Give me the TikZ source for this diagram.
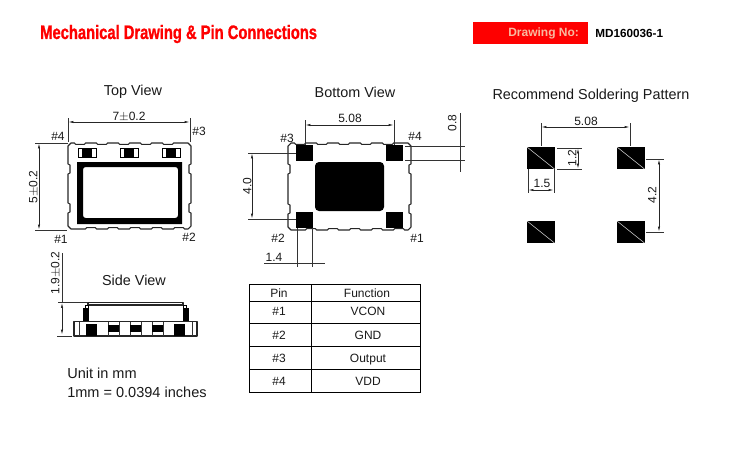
\documentclass[tikz,border=0pt]{standalone}
\usepackage{fontspec}
\setmainfont{Liberation Sans}
\newfontfamily\headfont[FakeStretch=0.757,FakeBold=1]{Liberation Sans Bold}
\usetikzlibrary{arrows.meta}
\definecolor{headred}{RGB}{254,0,0}
\definecolor{headpale}{RGB}{248,186,160}
\tikzset{
  title/.style={font=\fontsize{10.8}{12}\selectfont, inner sep=0pt, text=black!90, text height=7.8pt, text depth=0pt},
  lbl/.style={font=\fontsize{9}{11}\selectfont, inner sep=0pt, text=black!90, text height=6.5pt, text depth=0pt},
  extline/.style={line width=0.5pt, black!80},
  dimline/.style={line width=0.5pt, black!85, {Latex[length=4pt,width=1.6pt]}-{Latex[length=4pt,width=1.6pt]}},
  outline/.style={line width=0.8pt, black!85, line join=round},
}
% package outline with the small recesses along its edges
\newcommand{\pkgbody}[4]{
  \draw[outline] (#1+3,#2) -- (#1+6.5,#2)
    \foreach \i in {0,...,4} { -- ++(1,1.3) -- ++(9,0) -- ++(1,-1.3) -- ++(11,0) }
    -- (#3-3,#2) -- (#3,#2+3) -- (#3,#2+21)
    -- ++(-2,1) -- ++(0,8) -- ++(2,1) -- (#3,#4-26) -- ++(-2,1) -- ++(0,8) -- ++(2,1) -- (#3,#4-3)
    -- (#3-3,#4) -- (#3-6.5,#4)
    \foreach \i in {0,...,4} { -- ++(-1,-1.3) -- ++(-9,0) -- ++(-1,1.3) -- ++(-11,0) }
    -- (#1+3,#4) -- (#1,#4-3) -- (#1,#4-16)
    -- ++(2,-1) -- ++(0,-8) -- ++(-2,-1) -- (#1,#2+31) -- ++(2,-1) -- ++(0,-8) -- ++(-2,-1) -- (#1,#2+3) -- cycle;
}
\begin{document}
\begin{tikzpicture}[x=0.75pt,y=-0.75pt]
        \useasboundingbox (0,0) rectangle (743,475);
        % Header
        \node[inner sep=0pt, anchor=west, text=headred, font=\headfont\fontsize{14.6}{16}\selectfont] (headTitle) at (40,34) {Mechanical Drawing \& Pin Connections};
        \fill[headred] (473,22) rectangle (588,44);
        \node[inner sep=0pt, anchor=west, text=headpale, font=\bfseries\fontsize{9}{11}\selectfont] (headNo) at (508,33.5) {Drawing No:};
        \node[inner sep=0pt, anchor=west, font=\bfseries\fontsize{8.8}{11}\selectfont] (headCode) at (595,33.5) {MD160036-1};

        % Top view
        \node[title] (topTitle) at (133,90) {Top View};
        \pkgbody{68}{143}{191}{229}
        \foreach \x in {78,120,162} {
            \draw[line width=0.6pt] (\x,148) rectangle (\x+18,157);
            \fill (\x+4,148) rectangle (\x+14,157);
        }
        \fill[even odd rule] (77,162) rectangle (182,224) [rounded corners=2pt] (83,167) rectangle (178,218);
        \draw[extline] (68,118) -- (68,142);
        \draw[extline] (190,118) -- (190,142);
        \draw[dimline] (68,122) -- (190,122);
        \node[lbl] (topWidth) at (129,116) {7$\pm$0.2};
        \draw[extline] (35,143) -- (68,143);
        \draw[extline] (35,230) -- (67,230);
        \draw[dimline] (39,143) -- (39,230);
        \node[lbl, rotate=90] (topHeight) at (33,187) {5$\pm$0.2};
        \node[lbl] (top4) at (58,136) {\#4};
        \node[lbl] (top3) at (199,131) {\#3};
        \node[lbl] (top1) at (61,239) {\#1};
        \node[lbl] (top2) at (189,237) {\#2};

        % Side view
        \node[title] (sideTitle) at (134,280) {Side View};
        \draw[outline] (88,305) -- (88,302.5) -- (183,302.5) -- (183,305) -- cycle;
        \draw[line width=0.5pt] (85,305) rectangle (88,308);
        \draw[line width=0.5pt] (183,305) rectangle (186,308);
        \fill (83,308) rectangle (89,322);
        \fill (183,308) rectangle (188.5,322);
        \draw[outline] (74,321.5) rectangle (197,336);
        \draw[extline] (79,321.5) -- (79,336);
        \draw[extline] (192,321.5) -- (192,336);
        \foreach \x in {86,174} {
            \fill (\x,324) rectangle (\x+11,336);
        }
        \foreach \x in {108,130,152} {
            \draw[extline] (\x,321.5) -- (\x,336);
            \draw[extline] (\x+11,321.5) -- (\x+11,336);
            \fill (\x,325) rectangle (\x+11,332);
        }
        \draw[extline] (58,302.5) -- (88,302.5);
        \draw[extline] (57,336) -- (72,336);
        \draw[extline] (62,253) -- (62,302.5);
        \draw[dimline] (62,302.5) -- (62,335);
        \node[lbl, rotate=90] (sideHeight) at (55,273) {1.9$\pm$0.2};

        % Bottom view
        \node[title] (botTitle) at (355,92) {Bottom View};
        \pkgbody{288}{143}{411}{230}
        \foreach \x/\y in {296/145,386/145,296/212,386/212} {
            \fill (\x,\y) rectangle (\x+17,\y+16);
        }
        \fill[rounded corners=3pt] (315,162) rectangle (384,211);
        \draw[extline] (305,120) -- (305,145);
        \draw[extline] (394,120) -- (394,145);
        \draw[dimline] (305,125) -- (394,125);
        \node[lbl] (botPitch) at (350,118) {5.08};
        \draw[extline] (248,153) -- (296,153);
        \draw[extline] (248,219) -- (296,219);
        \draw[dimline] (252,153) -- (252,219);
        \node[lbl, rotate=90] (botRow) at (247,186) {4.0};
        \draw[extline] (405,146) -- (465,146);
        \draw[extline] (405,160) -- (465,160);
        \draw[extline] (460,113) -- (460,172);
        \node[lbl, rotate=90] (botGap) at (452,123) {0.8};
        \draw[extline] (297,228) -- (297,267);
        \draw[extline] (312,228) -- (312,267);
        \draw[extline] (264,263) -- (325,263);
        \node[lbl] (botPad) at (274,257) {1.4};
        \node[lbl] (bot3) at (287,138) {\#3};
        \node[lbl] (bot4) at (415,136) {\#4};
        \node[lbl] (bot2) at (278,238) {\#2};
        \node[lbl] (bot1) at (417,238) {\#1};

        % Soldering pattern
        \node[title] (solTitle) at (591,94) {Recommend Soldering Pattern};
        \foreach \x/\y in {527/147,617/147,527/221,617/221} {
            \fill (\x,\y) rectangle (\x+27.5,\y+22);
            \draw[white, line width=0.3pt] (\x,\y) -- (\x+27.5,\y+22);
        }
        \draw[extline] (541,123) -- (541,146);
        \draw[extline] (630,123) -- (630,146);
        \draw[dimline] (541,127) -- (630,127);
        \node[lbl] (solPitch) at (586,121) {5.08};
        \draw[extline] (557,148) -- (582,148);
        \draw[extline] (557,169) -- (582,169);
        \draw[dimline] (578,148) -- (578,169);
        \node[lbl, rotate=90] (solLen) at (572,158) {1.2};
        \draw[extline] (528,169) -- (528,193);
        \draw[extline] (554,169) -- (554,193);
        \draw[dimline] (528,190) -- (554,190);
        \node[lbl] (solWid) at (542,183) {1.5};
        \draw[extline] (646,159) -- (664,159);
        \draw[extline] (646,232) -- (664,232);
        \draw[dimline] (659,159) -- (659,232);
        \node[lbl, rotate=90] (solRow) at (652,195) {4.2};

        % Pin table
        \draw[line width=0.7pt] (249,284) rectangle (420,392);
        \draw[line width=0.7pt] (311,284) -- (311,392);
        \foreach \y in {301,323,346,369} {
            \draw[line width=0.5pt] (249,\y) -- (420,\y);
        }
        \node[lbl] (headPin) at (279,293) {Pin};
        \node[lbl] (headFn) at (367,293) {Function};
        \node[lbl] (pin1) at (279,311) {\#1};
        \node[lbl] (fn1) at (368,311) {VCON};
        \node[lbl] (pin2) at (279,335) {\#2};
        \node[lbl] (fn2) at (368,335) {GND};
        \node[lbl] (pin3) at (279,358) {\#3};
        \node[lbl] (fn3) at (368,358) {Output};
        \node[lbl] (pin4) at (279,381) {\#4};
        \node[lbl] (fn4) at (368,381) {VDD};

        % Unit note
        \node[lbl, anchor=west, font=\fontsize{10.9}{14}\selectfont] (unitA) at (67,374) {Unit in mm};
        \node[lbl, anchor=west, font=\fontsize{10.9}{14}\selectfont] (unitB) at (67,393) {1mm = 0.0394 inches};
\end{tikzpicture}
\end{document}
